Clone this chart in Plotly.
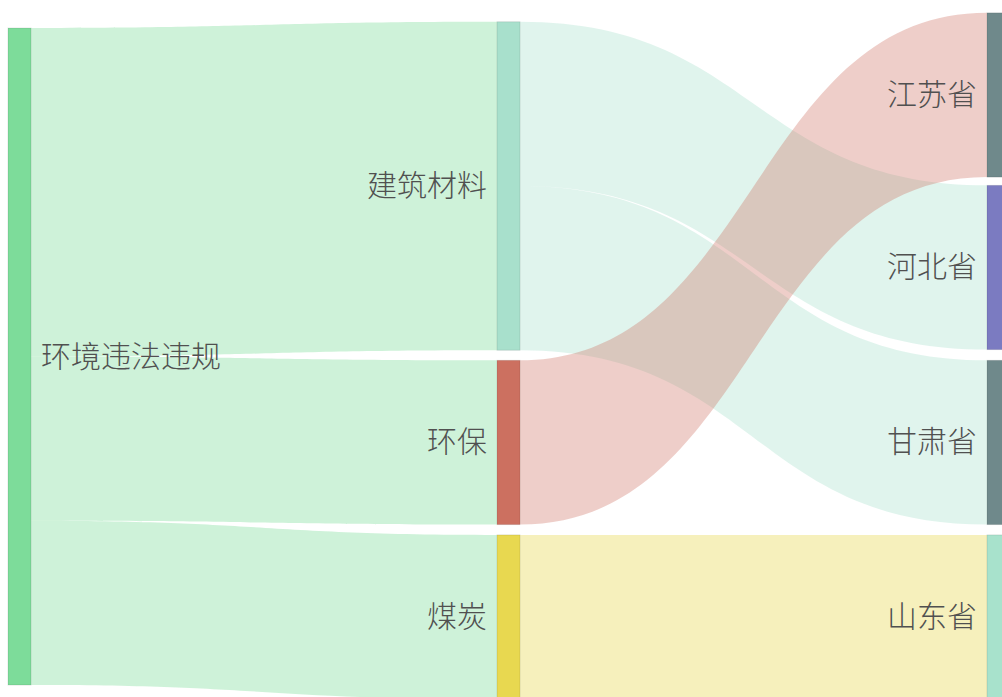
import plotly.graph_objects as go

# ---- data ----
node_labels = ["环境违法违规", "建筑材料", "环保", "煤炭", "江苏省", "河北省", "甘肃省", "山东省"]
node_colors = ["#7ddc9a", "#a8e0cc", "#cc7060", "#e8d850", "#6f898b", "#7b7bc1", "#6f898b", "#a8e2cc"]
node_column = [0, 1, 1, 1, 2, 2, 2, 2]
link_source = ["环境违法违规", "环境违法违规", "环境违法违规", "建筑材料", "建筑材料", "环保", "煤炭"]
link_target = ["建筑材料", "环保", "煤炭", "河北省", "甘肃省", "江苏省", "山东省"]
link_value = [2, 1, 1, 1, 1, 1, 1]
link_colors = ["rgba(125,220,154,0.38)", "rgba(125,220,154,0.38)", "rgba(125,220,154,0.38)",
               "rgba(168,224,204,0.36)", "rgba(168,224,204,0.36)",
               "rgba(204,112,96,0.34)", "rgba(232,216,80,0.38)"]

# layout positions (normalised node centres)
node_x = [0.01946, 0.5075, 0.5075, 0.5075, 0.99651, 0.99651, 0.99651, 0.99651]
node_y = [0.5044, 0.2562, 0.6295, 0.8836, 0.1237, 0.3748, 0.6295, 0.8836]

W, H, T = 1002, 697, 10
DH = H - T
THICK = 23
GAP = 8

idx = {n: i for i, n in enumerate(node_labels)}

fig = go.Figure(go.Sankey(
    arrangement="fixed",
    node=dict(
        label=["" for _ in node_labels],
        color=node_colors,
        line=dict(color="rgba(0,0,0,0.1)", width=1),
        thickness=THICK,
        pad=10,
        x=node_x,
        y=node_y,
        hoverinfo="none",
    ),
    link=dict(
        source=[idx[s] for s in link_source],
        target=[idx[t] for t in link_target],
        value=link_value,
        color=link_colors,
        hoverinfo="none",
    ),
    domain=dict(x=[0, 1], y=[0, 1]),
))

# node labels as text beside each node
for lab, x, y, col in zip(node_labels, node_x, node_y, node_column):
    cx = x * W
    if col == 0:
        px, anchor = cx + THICK / 2 + GAP, "left"
    else:
        px, anchor = cx - THICK / 2 - GAP, "right"
    fig.add_annotation(
        x=px / W, y=1 - y, xref="paper", yref="paper",
        text=lab, showarrow=False, xanchor=anchor, yanchor="middle", yshift=3,
        font=dict(family="Noto Sans CJK SC", size=30, color="#505050", weight=300),
    )

fig.update_layout(
    width=W,
    height=H,
    margin=dict(l=0, r=0, t=T, b=0),
    paper_bgcolor="white",
    plot_bgcolor="white",
)

fig.write_html(
    "out.html",
    config={"displayModeBar": False},
    post_script="document.body.style.margin='0';document.body.style.overflow='hidden';",
)
